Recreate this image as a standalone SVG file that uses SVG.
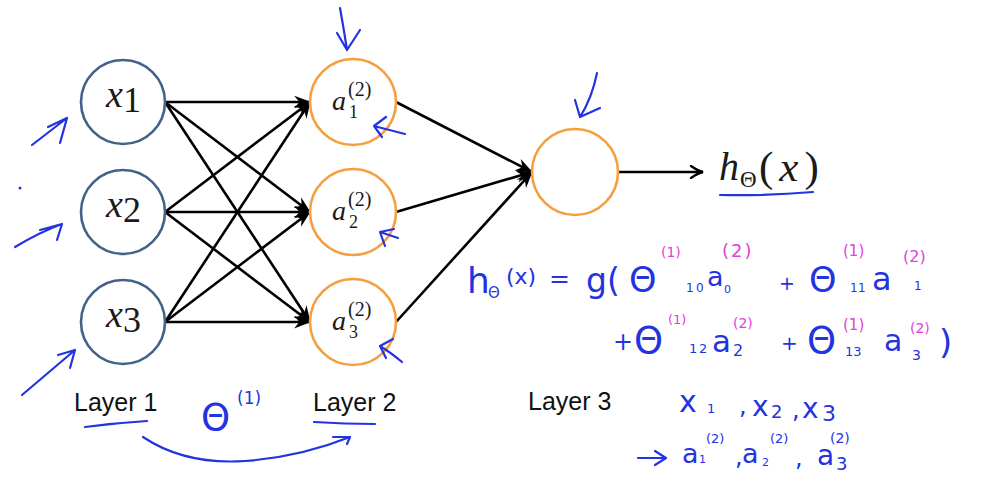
<svg xmlns="http://www.w3.org/2000/svg" width="998" height="484" viewBox="0 0 998 484">
<defs>
<style>
.n1{fill:#fff;stroke:#43628a;stroke-width:2.6}
.n2{fill:#fff;stroke:#f4a041;stroke-width:2.6}
.e{stroke:#000;stroke-width:2.6;fill:none;marker-end:url(#ah)}
.hw{fill:none;stroke:#2333e0;stroke-width:2.2;stroke-linecap:round;stroke-linejoin:round}
.ht{fill:#2333e0;font-family:"DejaVu Sans",sans-serif}
.hm{fill:#e040dc;font-family:"DejaVu Sans",sans-serif}
.tex{font-family:"Liberation Serif",serif;fill:#1a1a1a}
.it{font-style:italic}
.lbl{font-family:"Liberation Sans",sans-serif;font-size:25px;fill:#111}
</style>
<marker id="ah" viewBox="0 0 16 12" refX="15" refY="6" markerWidth="17" markerHeight="13" markerUnits="userSpaceOnUse" orient="auto">
<path d="M0,0 L16,6 L0,12 L5,6 z" fill="#000"/>
</marker>
<marker id="ah2" viewBox="0 0 16 14" refX="14" refY="7" markerWidth="16" markerHeight="14" markerUnits="userSpaceOnUse" orient="auto">
<path d="M2,1 Q9,6 14,7 Q9,8 2,13" fill="none" stroke="#000" stroke-width="2.4" stroke-linecap="round"/>
</marker>
</defs>
<rect width="998" height="484" fill="#fff"/>

<g id="connectors">
<line class="e" x1="165" y1="102" x2="310" y2="102"/>
<line class="e" x1="165" y1="102" x2="310" y2="212"/>
<line class="e" x1="165" y1="102" x2="310" y2="322"/>
<line class="e" x1="165" y1="212" x2="310" y2="102"/>
<line class="e" x1="165" y1="212" x2="310" y2="212"/>
<line class="e" x1="165" y1="212" x2="310" y2="322"/>
<line class="e" x1="165" y1="322" x2="310" y2="102"/>
<line class="e" x1="165" y1="322" x2="310" y2="212"/>
<line class="e" x1="165" y1="322" x2="310" y2="322"/>
<line class="e" x1="396" y1="102" x2="532" y2="172"/>
<line class="e" x1="396" y1="212" x2="532" y2="172"/>
<line class="e" x1="396" y1="322" x2="532" y2="172"/>
<line x1="619" y1="172" x2="703" y2="172" stroke="#000" stroke-width="2.6" marker-end="url(#ah2)"/>
</g>

<g id="x1"><circle class="n1" cx="123" cy="102" r="42"/>
<text class="tex it" x="106" y="107" font-size="38">x</text><text class="tex" x="123" y="112" font-size="36">1</text></g>
<g id="x2"><circle class="n1" cx="123" cy="212" r="42"/>
<text class="tex it" x="106" y="217" font-size="38">x</text><text class="tex" x="123" y="222" font-size="36">2</text></g>
<g id="x3"><circle class="n1" cx="123" cy="322" r="42"/>
<text class="tex it" x="106" y="327" font-size="38">x</text><text class="tex" x="123" y="332" font-size="36">3</text></g>

<g id="a1"><circle class="n2" cx="353" cy="102" r="43"/>
<text class="tex it" x="332" y="110" font-size="28">a</text><text class="tex" x="348" y="96" font-size="20">(2)</text><text class="tex" x="349" y="118" font-size="18">1</text></g>
<g id="a2"><circle class="n2" cx="353" cy="212" r="43"/>
<text class="tex it" x="332" y="220" font-size="28">a</text><text class="tex" x="348" y="206" font-size="20">(2)</text><text class="tex" x="349" y="228" font-size="18">2</text></g>
<g id="a3"><circle class="n2" cx="353" cy="322" r="43"/>
<text class="tex it" x="332" y="330" font-size="28">a</text><text class="tex" x="348" y="316" font-size="20">(2)</text><text class="tex" x="349" y="338" font-size="18">3</text></g>

<g id="out"><circle class="n2" cx="575" cy="172" r="43"/></g>

<g id="hx">
<text class="tex it" x="719" y="180" font-size="40">h</text>
<text class="tex" x="740" y="187" font-size="23">Θ</text>
<text class="tex" x="759" y="181" font-size="43" letter-spacing="6">(<tspan font-style="italic">x</tspan>)</text>
</g>

<g id="labels">
<text class="lbl" x="74" y="411">Layer 1</text>
<text class="lbl" x="313" y="411">Layer 2</text>
<text class="lbl" x="528" y="410">Layer 3</text>
</g>

<g id="annotations">
<path class="hw" d="M340,8 Q344,30 347,50 M337,33 L347,50 L360,30"/>
<path class="hw" d="M597,73 Q592,98 580,117 M575,100 L580,117 L600,108"/>
<path class="hw" d="M405,134 L374,126 M386,117 L374,126 L382,137"/>
<path class="hw" d="M398,238 L380,232 L394,229 M380,232 L385,246"/>
<path class="hw" d="M402,362 Q390,352 380,346 L393,339 M380,346 L386,358"/>
<path class="hw" d="M32,145 L67,118 M48,127 L67,118 L60,143"/>
<path class="hw" d="M15,247 Q40,232 62,224 M40,230 L62,224 L57,240"/>
<circle cx="20" cy="188" r="1.5" fill="#2333e0"/>
<path class="hw" d="M22,395 L75,350 M58,355 L75,350 L70,368"/>
<path class="hw" d="M85,427 Q115,423 147,421"/>
<path class="hw" d="M314,422 Q345,424 375,424"/>
<path class="hw" d="M143,437 Q185,465 245,461 Q300,457 350,437 M333,437 L350,437 L347,444"/>
<path class="hw" d="M720,195 Q765,196 813,192"/>
<path class="hw" d="M638,458 L665,458 M655,451 L666,458 L655,465"/>
<text class="ht" x="201" y="430" font-size="37">Θ</text>
<text class="ht" x="237" y="404" font-size="17">(1)</text>

<text class="ht" x="467" y="293" font-size="36">h</text>
<text class="ht" x="488" y="298" font-size="15">Θ</text>
<text class="ht" x="506" y="284" font-size="22">(x)</text>
<text class="ht" x="549" y="287" font-size="25">=</text>
<text class="ht" x="586" y="292" font-size="33">g(</text>
<text class="ht" x="629" y="292" font-size="35">Θ</text>
<text class="hm" x="661" y="257" font-size="14">(1)</text>
<text class="ht" font-size="12" y="292"><tspan x="686">1</tspan><tspan x="696">0</tspan></text>
<text class="ht" x="707" y="286" font-size="27">a</text>
<text class="ht" x="724" y="293" font-size="11">0</text>
<text class="hm" x="722" y="257" font-size="18" letter-spacing="2">(2)</text>
<text class="ht" x="779" y="290" font-size="19">+</text>
<text class="ht" x="809" y="292" font-size="35">Θ</text>
<text class="hm" x="843" y="256" font-size="15">(1)</text>
<text class="ht" font-size="12" y="292"><tspan x="850">1</tspan><tspan x="858">1</tspan></text>
<text class="ht" x="872" y="290" font-size="32">a</text>
<text class="ht" x="914" y="290" font-size="12">1</text>
<text class="hm" x="903" y="262" font-size="16">(2)</text>

<text class="ht" x="613" y="350" font-size="24">+</text>
<text class="ht" x="634" y="353" font-size="37">Θ</text>
<text class="hm" x="668" y="324" font-size="13">(1)</text>
<text class="ht" font-size="13" y="353"><tspan x="689">1</tspan><tspan x="699">2</tspan></text>
<text class="ht" x="712" y="352" font-size="31">a</text>
<text class="ht" x="733" y="356" font-size="16">2</text>
<text class="hm" x="733" y="328" font-size="14">(2)</text>
<text class="ht" x="781" y="350" font-size="20">+</text>
<text class="ht" x="807" y="353" font-size="37">Θ</text>
<text class="hm" x="843" y="330" font-size="15">(1)</text>
<text class="ht" x="845" y="356" font-size="13">13</text>
<text class="ht" x="884" y="351" font-size="30">a</text>
<text class="ht" x="912" y="360" font-size="14">3</text>
<text class="hm" x="910" y="333" font-size="14">(2)</text>
<text class="ht" x="939" y="354" font-size="34">)</text>

<text class="ht" x="679" y="412" font-size="30">x</text>
<text class="ht" x="707" y="413" font-size="13">1</text>
<text class="ht" x="739" y="414" font-size="24">,</text>
<text class="ht" x="752" y="416" font-size="28">x</text>
<text class="ht" x="771" y="418" font-size="18">2</text>
<text class="ht" x="792" y="418" font-size="24">,</text>
<text class="ht" x="802" y="418" font-size="28">x</text>
<text class="ht" x="822" y="421" font-size="22">3</text>

<text class="ht" x="682" y="463" font-size="27">a</text>
<text class="ht" x="699" y="463" font-size="11">1</text>
<text class="ht" x="706" y="443" font-size="13">(2)</text>
<text class="ht" x="735" y="465" font-size="24">,</text>
<text class="ht" x="742" y="463" font-size="27">a</text>
<text class="ht" x="762" y="466" font-size="11">2</text>
<text class="ht" x="770" y="443" font-size="13">(2)</text>
<text class="ht" x="795" y="466" font-size="24">,</text>
<text class="ht" x="817" y="465" font-size="28">a</text>
<text class="ht" x="836" y="470" font-size="18">3</text>
<text class="ht" x="830" y="443" font-size="14">(2)</text>
</g>
</svg>
